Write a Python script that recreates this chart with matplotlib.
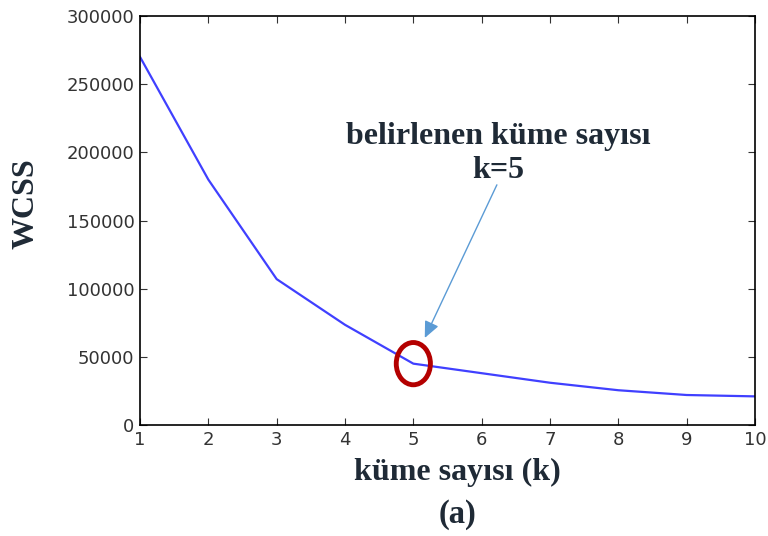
import matplotlib.pyplot as plt
from matplotlib.patches import Ellipse

k_values = [1, 2, 3, 4, 5, 6, 7, 8, 9, 10]
wcss = [270000, 180000, 107000, 73500, 45000, 38000, 31000, 25500, 22000, 21000]
y_ticks = [0, 50000, 100000, 150000, 200000, 250000, 300000]
best_k = 5

text_color = '#1f2a36'
serif = ['Liberation Serif', 'DejaVu Serif']

fig = plt.figure(figsize=(7.68, 5.36), dpi=100)
ax = fig.add_axes([140 / 768, 111 / 536, 615 / 768, 409 / 536])

ax.plot(k_values, wcss, color='#4040ff', lw=1.6)
ax.set_xlim(1, 10)
ax.set_ylim(0, 300000)
ax.set_xticks(k_values)
ax.set_yticks(y_ticks)
ax.tick_params(direction='in', top=True, right=True, length=5, width=0.8,
               labelsize=13, colors='#333333', pad=4)
for s in ax.spines.values():
    s.set_linewidth(1.2)

# red circle around the elbow point
idx = k_values.index(best_k)
ax.add_patch(Ellipse((best_k, wcss[idx]), width=0.5, height=31000,
                     fill=False, edgecolor='#b40000', lw=3.5, zorder=5))

ax.annotate('', xy=(5.15, 62000), xytext=(6.24, 178000),
            arrowprops=dict(arrowstyle='-|>,head_length=1.0,head_width=0.45',
                            color='#5b9bd5', lw=1.0))
ax.text(6.24, 199000, 'belirlenen küme sayısı\nk=5', ha='center', va='center',
        fontsize=23, fontweight='bold', family=serif, color=text_color,
        linespacing=1.25)

fig.text(26 / 768, 1 - 204 / 536, 'WCSS', rotation=90, ha='center', va='center',
         fontsize=23, fontweight='bold', family=serif, color=text_color)
fig.text(457 / 768, 1 - 472 / 536, 'küme sayısı (k)', ha='center', va='center',
         fontsize=23, fontweight='bold', family=serif, color=text_color)
fig.text(457 / 768, 1 - 515 / 536, '(a)', ha='center', va='center', fontsize=23.5,
         fontweight='bold', family=serif, color=text_color)

fig.savefig('out.png', dpi=100)
